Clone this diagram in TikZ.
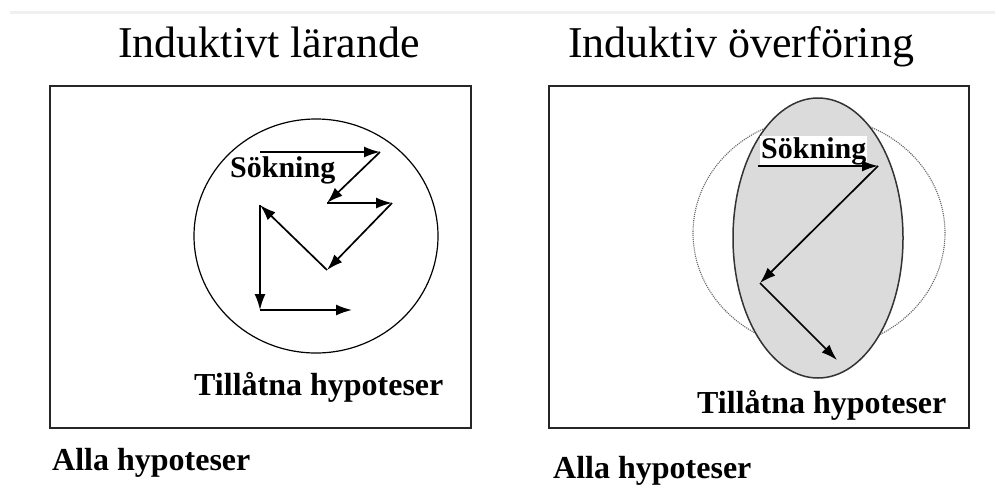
\documentclass[tikz,border=0pt]{standalone}
\usepackage{fontspec}
\setmainfont{Liberation Serif}
\usetikzlibrary{arrows.meta,shapes.geometric}
\begin{document}
\begin{tikzpicture}[x=1pt,y=-1pt,
  frame/.style={draw=black!85,line width=1.8pt},
  title/.style={anchor=base west,inner sep=0pt,font=\fontsize{44}{50}\selectfont},
  label/.style={anchor=base west,inner sep=0pt,font=\fontsize{32}{38}\selectfont\bfseries},
  searchlbl/.style={anchor=base west,inner sep=0pt,font=\fontsize{30}{36}\selectfont\bfseries},
  move/.style={line width=1.7pt,-{Latex[length=16pt,width=11pt]}}]
\useasboundingbox (0,0) rectangle (995,493);
\draw[black!6,line width=3pt] (10,12) -- (995,12);

% titles
\node[title] (t1) at (118,57) {Induktivt lärande};
\node[title] (t2) at (568,57) {Induktiv överföring};

% left panel: inductive learning
\node[frame,minimum width=421pt,minimum height=342pt,inner sep=0pt] (box1) at (260.5,257) {};
\node[draw,line width=1.2pt,ellipse,minimum width=244pt,minimum height=234pt,inner sep=0pt] (space1) at (316,236) {};
\node[searchlbl] (s1) at (230,177) {Sökning};
\node[label] (h1) at (194,395) {Tillåtna hypoteser};
\node[label] (a1) at (52,470) {Alla hypoteser};

\coordinate (p1) at (260,152);
\coordinate (p2) at (380,152);
\coordinate (p3) at (327,203);
\coordinate (p4) at (392,203);
\coordinate (p5) at (327,270);
\coordinate (p6) at (260,205);
\coordinate (p7) at (260,310);
\coordinate (p8) at (352,310);
\draw[move] (p1) -- (p2);
\draw[move] (p2) -- (p3);
\draw[move] (p3) -- (p4);
\draw[move] (p4) -- (p5);
\draw[move] (p5) -- (p6);
\draw[move] (p6) -- (p7);
\draw[move] (p7) -- (p8);

% right panel: inductive transfer
\node[frame,minimum width=420pt,minimum height=342pt,inner sep=0pt] (box2) at (759,257) {};
\node[draw=black!60,line width=1.1pt,densely dotted,ellipse,minimum width=252pt,minimum height=232pt,inner sep=0pt] (space2) at (819,233) {};
\node[draw=black!80,fill=black!14,line width=1.5pt,ellipse,minimum width=170pt,minimum height=280pt,inner sep=0pt] (bias) at (818,238) {};
\node[searchlbl,fill=white,inner sep=1pt] (s2) at (760,158) {Sökning};
\node[label] (h2) at (697,413) {Tillåtna hypoteser};
\node[label] (a2) at (553,478) {Alla hypoteser};

\coordinate (q1) at (758,166);
\coordinate (q2) at (878,166);
\coordinate (q3) at (760,283);
\coordinate (q4) at (837,360);
\draw[move] (q1) -- (q2);
\draw[move] (q2) -- (q3);
\draw[move] (q3) -- (q4);
\end{tikzpicture}
\end{document}
